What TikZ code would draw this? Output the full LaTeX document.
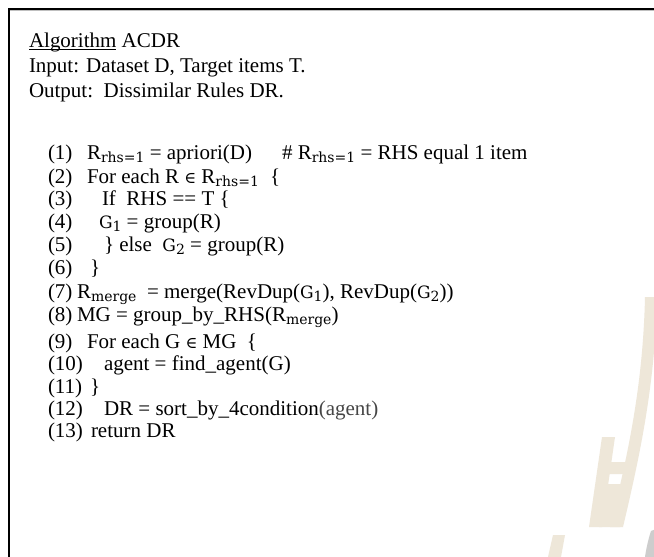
\documentclass[tikz,border=0pt]{standalone}
\usepackage{fontspec}
\setmainfont{Liberation Serif}
\newfontfamily\mfont{DejaVu Serif}
\usetikzlibrary{calc}

\definecolor{wmbeige}{RGB}{238,231,217}
\definecolor{wmgray}{RGB}{205,205,205}
\definecolor{argcol}{RGB}{70,70,70}

% subscript set in the math font, lowered below the baseline
\newcommand\sbs[1]{\raisebox{-3.5pt}{\fontsize{14}{14}\selectfont\mfont #1}}
\newcommand\elem{{\fontsize{16}{16}\selectfont\mfont ∈}}
\newcommand\mG{{\fontsize{17}{17}\selectfont\mfont G}}

\tikzset{
  txt/.style={anchor=base west, inner sep=0pt, outer sep=0pt,
              font=\fontsize{21}{24}\selectfont},
  num/.style={txt},
  frameline/.style={line width=2pt, black},
}

\begin{document}
\begin{tikzpicture}[x=1pt, y=-1pt]
\useasboundingbox[fill=white] (0,0) rectangle (654,557);

% watermark in the lower right corner
\fill[wmbeige] (645,297) .. controls (643,385) and (628,455) .. (610,527)
  -- (623,527) .. controls (640,455) and (655,385) .. (657,297) -- cycle;
\fill[wmbeige] (602,437) -- (615,437) -- (602,527) -- (589,527) -- cycle;
\fill[wmbeige] (608,462) -- (630,462) -- (628,474) -- (606,474) -- cycle;
\fill[wmbeige] (605,484) -- (626,484) -- (620,527) -- (599,527) -- cycle;
\fill[wmbeige] (553,535) -- (565,535) -- (561,557) -- (548,557) -- cycle;
\fill[wmgray] (651,531) .. controls (648,540) and (646,550) .. (645,557)
  -- (656,557) -- (656,529) -- cycle;

% frame (top and left edges)
\coordinate (fbl) at (9,560);
\coordinate (ftl) at (9,9);
\coordinate (ftr) at (660,9);
\draw[gray!50, line width=1pt] (10,10.8) -- (660,10.8);
\draw[frameline] (fbl) -- (ftl) -- (ftr);

% header
\node[txt] (alg) at (29,47) {Algorithm};
\node[txt] (acdr) at (alg.base east) {\ ACDR};
\draw[line width=1.1pt] ($(alg.base west)+(0,2.5)$) -- ($(alg.base east)+(0,2.5)$);
\node[txt] (inp) at (29,72) {Input: Dataset D, Target items T.};
\node[txt] (outp) at (29,97) {Output:\ \ Dissimilar Rules DR.};

% numbered steps
\node[num] (n1) at (48,159) {(1)};
\node[txt] (b1) at (87,159) {R\sbs{rhs=1} = apriori(D)};
\node[txt] (c1) at (282,159) {\# R\sbs{rhs=1} = RHS equal 1 item};

\node[num] (n2) at (48,183) {(2)};
\node[txt] (b2) at (87,183) {For each R \elem\ R\sbs{rhs=1}};
\node[txt] (o2) at (270,183) {\{};

\node[num] (n3) at (48,205) {(3)};
\node[txt] (b3) at (102,205) {If\ \ RHS == T \{};

\node[num] (n4) at (48,228) {(4)};
\node[txt] (b4) at (99,228) {\mG\sbs{1} = group(R)};

\node[num] (n5) at (48,251) {(5)};
\node[txt] (b5) at (104,251) {\} else\ \ \mG\sbs{2} = group(R)};

\node[num] (n6) at (48,274) {(6)};
\node[txt] (b6) at (90,274) {\}};

\node[num] (n7) at (48,298) {(7)};
\node[txt] (b7) at (77,298) {R\sbs{merge}\ \ = merge(RevDup(\mG\sbs{1}), RevDup(\mG\sbs{2}))};

\node[num] (n8) at (48,321) {(8)};
\node[txt] (b8) at (77,321) {MG = group\_by\_RHS(R\sbs{merge})};

\node[num] (n9) at (48,348) {(9)};
\node[txt] (b9) at (87,348) {For each G \elem\ MG\ \ \{};

\node[num] (n10) at (48,370) {(10)};
\node[txt] (b10) at (104,370) {agent = find\_agent(G)};

\node[num] (n11) at (48,393) {(11)};
\node[txt] (b11) at (90,393) {\}};

\node[num] (n12) at (48,415) {(12)};
\node[txt] (b12) at (104,415) {DR = sort\_by\_4condition\textcolor{argcol}{(agent)}};

\node[num] (n13) at (48,437) {(13)};
\node[txt] (b13) at (91,437) {return DR};
\end{tikzpicture}
\end{document}
